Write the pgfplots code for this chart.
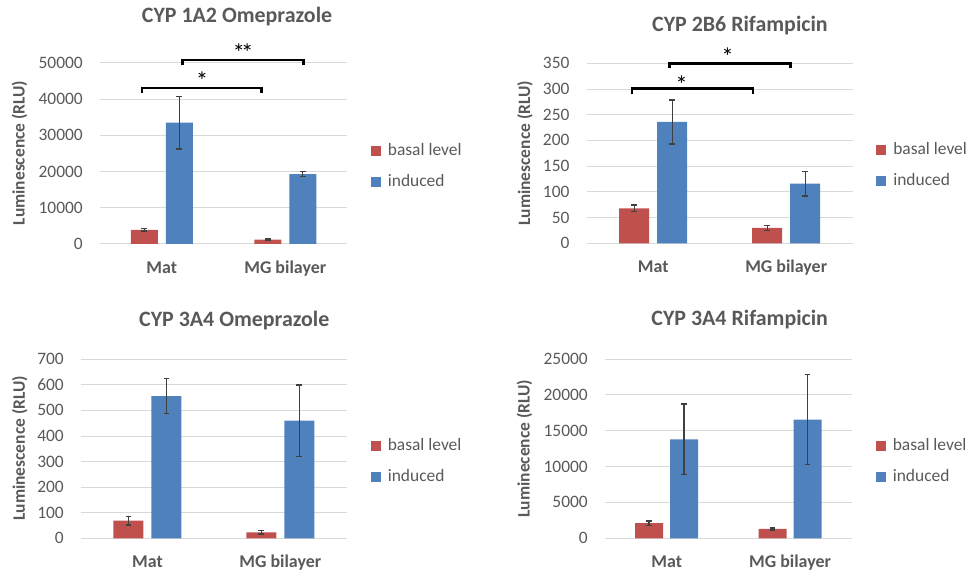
\documentclass[border=0pt]{standalone}
\usepackage{fontspec}
\setmainfont{Carlito}
\usepackage{pgfplots}
\pgfplotsset{compat=1.18}
\definecolor{basal}{HTML}{C0504D}
\definecolor{induced}{HTML}{4F81BD}
\definecolor{txtgray}{HTML}{595959}
\definecolor{gridgray}{HTML}{D9D9D9}
\definecolor{errgray}{HTML}{404040}
\tikzset{sigstar/.style={anchor=base, inner sep=0pt, font=\fontsize{25}{26}\selectfont, text=black}}
\pgfplotsset{
  panel/.style={
    scale only axis, xmin=-0.5, xmax=1.5, ymin=0, clip=false,
    xtick={0,1}, xticklabels={Mat, MG bilayer},
    xticklabel style={font=\bfseries\fontsize{18}{20}\selectfont, text=txtgray, anchor=base, inner sep=0pt, yshift=-29.5bp},
    yticklabel style={font=\fontsize{17.5}{20}\selectfont, text=txtgray, anchor=base east, inner sep=0pt, yshift=-5.5bp, xshift=-17bp},
    /pgf/number format/assume math mode=true,
    scaled y ticks=false,
    /pgf/number format/1000 sep={},
    axis line style={draw=none}, major tick length=0pt,
    ymajorgrids, grid style={draw=gridgray, line width=1bp},
    title style={font=\bfseries\fontsize{22}{24}\selectfont, text=txtgray, anchor=base, inner sep=0pt},
    ylabel style={font=\bfseries\fontsize{17.5}{20}\selectfont, text=txtgray, anchor=center, inner sep=0pt},
    legend style={draw=none, fill=none, anchor=west, font=\fontsize{17.5}{20}\selectfont, text=txtgray,
      inner sep=0pt, row sep=16bp, nodes={inner sep=0pt, text height=12bp, text depth=3bp}},
    legend cell align=left,
    error bars/y dir=both, error bars/y explicit,
    error bars/error bar style={draw=errgray, line width=1.4bp},
    error bars/error mark options={draw=errgray, line width=1.4bp, mark size=2.8bp, rotate=90},
  },
  basalplot/.style={fill=basal, draw=none, legend image code/.code={\fill[basal] (0bp,-5bp) rectangle (10bp,5bp); \path (17bp,0bp);}},
  inducedplot/.style={fill=induced, draw=none, legend image code/.code={\fill[induced] (0bp,-5bp) rectangle (10bp,5bp); \path (17bp,0bp);}},
}
\begin{document}
\begin{tikzpicture}
\useasboundingbox (0,0) rectangle (977bp,574bp);
% Panel 1
\begin{axis}[panel, at={(100bp,330bp)}, anchor=south west, width=247bp, height=181bp,
  ybar=8bp, bar width=27bp, ymax=50000, ytick={0,10000,...,50000},
  title={CYP 1A2 Omeprazole}, title style={at={(0.555,1.188)}},
  ylabel={Luminescence (RLU)}, ylabel style={at={(-0.326,0.503)}},
  legend style={at={(1.096,0.428)}}]
\addplot[basalplot] coordinates {(0,3900) +- (0,300) (1,1200) +- (0,200)};
\addplot[inducedplot] coordinates {(0,33500) +- (0,7300) (1,19300) +- (0,700)};
\legend{basal level, induced}
\draw[line width=2.7bp] (axis cs:-0.16,41700) |- (axis cs:0.81,43100) -- (axis cs:0.81,41700);
\draw[line width=2.7bp] (axis cs:0.17,49400) |- (axis cs:1.15,50800) -- (axis cs:1.15,49400);
\node[sigstar] at (axis cs:0.326,42600) {*};
\node[sigstar] at (axis cs:0.658,50300) {*\kern-4bp*};
\end{axis}
% Panel 2
\begin{axis}[panel, at={(586.7bp,330.7bp)}, anchor=south west, width=266bp, height=180bp,
  ybar=8bp, bar width=30bp, ymax=350, ytick={0,50,...,350},
  title={CYP 2B6 Rifampicin}, title style={at={(0.576,1.142)}},
  ylabel={Luminescence (RLU)}, ylabel style={at={(-0.232,0.5)}},
  legend style={at={(1.088,0.432)}}]
\addplot[basalplot] coordinates {(0,68) +- (0,6.5) (1,30) +- (0,5)};
\addplot[inducedplot] coordinates {(0,236) +- (0,43) (1,116) +- (0,24)};
\legend{basal level, induced}
\draw[line width=2.7bp] (axis cs:-0.16,290.5) |- (axis cs:0.75,301.5) -- (axis cs:0.75,290.5);
\draw[line width=2.7bp] (axis cs:0.12,340) |- (axis cs:1.03,350) -- (axis cs:1.03,340);
\node[sigstar] at (axis cs:0.214,291) {*};
\node[sigstar] at (axis cs:0.56,345) {*};
\end{axis}
% Panel 3
\begin{axis}[panel, at={(81bp,35.7bp)}, anchor=south west, width=265.7bp, height=179bp,
  ybar=8bp, bar width=30bp, ymax=700, ytick={0,100,...,700},
  title={CYP 3A4 Omeprazole}, title style={at={(0.577,1.151)}},
  ylabel={Luminescence (RLU)}, ylabel style={at={(-0.231,0.503)}},
  legend style={at={(1.09,0.431)}}]
\addplot[basalplot] coordinates {(0,69) +- (0,17) (1,23.5) +- (0,6)};
\addplot[inducedplot] coordinates {(0,556) +- (0,68) (1,460) +- (0,140)};
\legend{basal level, induced}
\end{axis}
% Panel 4
\begin{axis}[panel, at={(605bp,35.7bp)}, anchor=south west, width=246.7bp, height=179.3bp,
  ybar=7bp, bar width=28bp, ymax=25000, ytick={0,5000,...,25000},
  title={CYP 3A4 Rifampicin}, title style={at={(0.546,1.151)}},
  ylabel={Luminecence (RLU)}, ylabel style={at={(-0.326,0.5)}},
  legend style={at={(1.097,0.431)}}]
\addplot[basalplot] coordinates {(0,2100) +- (0,300) (1,1300) +- (0,150)};
\addplot[inducedplot] coordinates {(0,13800) +- (0,4900) (1,16550) +- (0,6250)};
\legend{basal level, induced}
\end{axis}
\end{tikzpicture}
\end{document}
